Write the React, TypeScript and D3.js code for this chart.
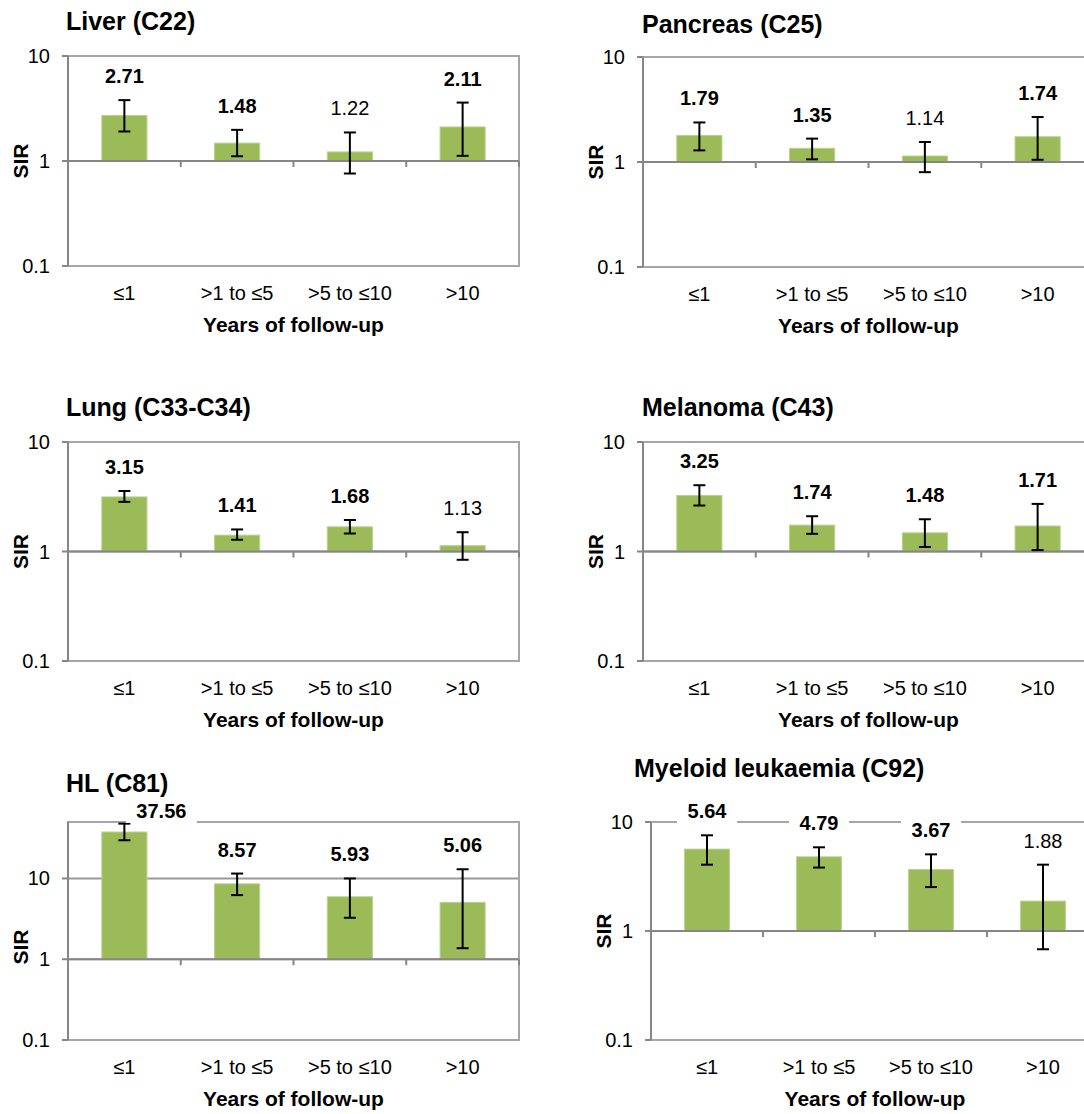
import React from 'react'
import * as d3 from 'd3'

const categories = ['≤1', '>1 to ≤5', '>5 to ≤10', '>10']
const titles = ['Liver (C22)', 'Pancreas (C25)', 'Lung (C33-C34)', 'Melanoma (C43)', 'HL (C81)', 'Myeloid leukaemia (C92)']

const liverSir = [2.71, 1.48, 1.22, 2.11]
const liverLo = [1.91, 1.11, 0.76, 1.12]
const liverHi = [3.8, 1.98, 1.87, 3.6]

const pancreasSir = [1.79, 1.35, 1.14, 1.74]
const pancreasLo = [1.29, 1.06, 0.8, 1.05]
const pancreasHi = [2.38, 1.67, 1.55, 2.68]

const lungSir = [3.15, 1.41, 1.68, 1.13]
const lungLo = [2.84, 1.28, 1.46, 0.84]
const lungHi = [3.57, 1.59, 1.94, 1.5]

const melanomaSir = [3.25, 1.74, 1.48, 1.71]
const melanomaLo = [2.63, 1.45, 1.1, 1.03]
const melanomaHi = [4.03, 2.1, 1.97, 2.72]

const hlSir = [37.56, 8.57, 5.93, 5.06]
const hlLo = [29.7, 6.22, 3.26, 1.37]
const hlHi = [47.7, 11.5, 10.0, 13.0]

const myeloidSir = [5.64, 4.79, 3.67, 1.88]
const myeloidLo = [4.06, 3.82, 2.53, 0.68]
const myeloidHi = [7.55, 5.86, 5.05, 4.06]

const yTicks = [0.1, 1, 10]
const yTickLabels = ['0.1', '1', '10']
const yMaxes = [10, 10, 10, 10, 50, 10]

const series = [
  { sir: liverSir, lo: liverLo, hi: liverHi },
  { sir: pancreasSir, lo: pancreasLo, hi: pancreasHi },
  { sir: lungSir, lo: lungLo, hi: lungHi },
  { sir: melanomaSir, lo: melanomaLo, hi: melanomaHi },
  { sir: hlSir, lo: hlLo, hi: hlHi },
  { sir: myeloidSir, lo: myeloidLo, hi: myeloidHi },
]

// panel geometry (plot area + title anchor)
const layout = [
  { left: 68, right: 519, top: 56, bottom: 266, titleX: 66, titleY: 30, sirDy: 0 },
  { left: 643, right: 1094, top: 57, bottom: 267, titleX: 642, titleY: 33, sirDy: 0 },
  { left: 68, right: 519, top: 442, bottom: 661, titleX: 66, titleY: 416, sirDy: 0 },
  { left: 643, right: 1094, top: 442, bottom: 661, titleX: 642, titleY: 416, sirDy: 0 },
  { left: 68, right: 519, top: 822, bottom: 1040, titleX: 66, titleY: 792, sirDy: 16 },
  { left: 651, right: 1099, top: 822, bottom: 1040, titleX: 634, titleY: 777, sirDy: 0 },
]

const FONT = '"Liberation Sans", Arial, sans-serif'
const GREEN = '#9BBB59'
const BORDER = '#A6A6A6'
const AXIS = '#868686'

function Panel({ idx }: { idx: number }) {
  const { left, right, top, bottom, titleX, titleY, sirDy } = layout[idx]
  const { sir, lo, hi } = series[idx]

  const x = d3.scaleBand().domain(categories).range([left, right]).paddingInner(0.6).paddingOuter(0.3)
  const step = (right - left) / categories.length
  const y = d3.scaleLog().domain([0.1, yMaxes[idx]]).range([bottom, top])
  const y1 = y(1)
  const midY = (top + bottom) / 2 + sirDy

  return (
    <g>
      <text x={titleX} y={titleY} fontSize={25} fontWeight="bold" fill="#000">
        {titles[idx]}
      </text>

      {/* gridlines */}
      {yTicks.map((t) => (
        <line key={t} x1={left} x2={right} y1={y(t)} y2={y(t)} stroke={t === 1 ? BORDER : '#999'} strokeWidth={2} />
      ))}
      <rect x={left} y={top} width={right - left} height={bottom - top} fill="none" stroke={BORDER} strokeWidth={2} />

      {/* bars */}
      {sir.map((v, i) => {
        const y0 = y(v)
        return (
          <rect
            key={i}
            x={x(categories[i])}
            y={Math.min(y0, y1)}
            width={x.bandwidth()}
            height={Math.abs(y1 - y0)}
            fill={GREEN}
            stroke="#B9D18A"
            strokeWidth={1}
          />
        )
      })}

      {/* category axis at 1 */}
      <line x1={left} x2={right} y1={y1} y2={y1} stroke={AXIS} strokeWidth={2} />
      {d3.range(1, categories.length + 1).map((k) => (
        <line key={k} x1={left + k * step} x2={left + k * step} y1={y1} y2={y1 + 6} stroke={AXIS} strokeWidth={2} />
      ))}

      {/* value axis */}
      <line x1={left} x2={left} y1={top} y2={bottom} stroke={AXIS} strokeWidth={2} />
      {yTicks.map((t, i) => (
        <g key={t}>
          <line x1={left - 6} x2={left} y1={y(t)} y2={y(t)} stroke={AXIS} strokeWidth={2} />
          <text x={left - 18} y={y(t)} dy="0.35em" textAnchor="end" fontSize={20} fill="#000">
            {yTickLabels[i]}
          </text>
        </g>
      ))}

      {/* error bars */}
      {sir.map((v, i) => {
        const cx = x(categories[i])! + x.bandwidth() / 2
        return (
          <g key={i} stroke="#000" strokeWidth={2}>
            <line x1={cx} x2={cx} y1={y(hi[i])} y2={y(lo[i])} />
            <line x1={cx - 6} x2={cx + 6} y1={y(hi[i])} y2={y(hi[i])} />
            <line x1={cx - 6} x2={cx + 6} y1={y(lo[i])} y2={y(lo[i])} />
          </g>
        )
      })}

      {/* value labels */}
      {sir.map((v, i) => {
        let cx = x(categories[i])! + x.bandwidth() / 2
        let cy = y(hi[i]) - 24
        if (cy < top - 12) {
          // label pushed right/down when it would leave the chart area
          cx += 37
          cy = top - 11
        }
        const label = v.toFixed(2)
        const w = label.length * 11 + 16
        return (
          <g key={i}>
            <rect x={cx - w / 2} y={cy - 12} width={w} height={24} fill="#fff" />
            <text x={cx} y={cy} dy="0.35em" textAnchor="middle" fontSize={20} fontWeight={lo[i] > 1 ? 'bold' : 'normal'} fill="#000">
              {label}
            </text>
          </g>
        )
      })}

      {/* category labels */}
      {categories.map((c) => (
        <text key={c} x={x(c)! + x.bandwidth() / 2} y={bottom + 27} dy="0.35em" textAnchor="middle" fontSize={20} fill="#000">
          {c}
        </text>
      ))}
      <text x={(left + right) / 2} y={bottom + 59} dy="0.35em" textAnchor="middle" fontSize={21} fontWeight="bold" fill="#000">
        Years of follow-up
      </text>
      <text
        transform={`translate(${left - 47}, ${midY}) rotate(-90)`}
        dy="0.35em"
        textAnchor="middle"
        fontSize={21}
        fontWeight="bold"
        fill="#000"
      >
        SIR
      </text>
    </g>
  )
}

export default function App() {
  return (
    <svg
      width={1084}
      height={1114}
      style={{ position: 'absolute', left: 0, top: 0, background: '#fff', fontFamily: FONT }}
    >
      {layout.map((_, i) => (
        <Panel key={i} idx={i} />
      ))}
    </svg>
  )
}
